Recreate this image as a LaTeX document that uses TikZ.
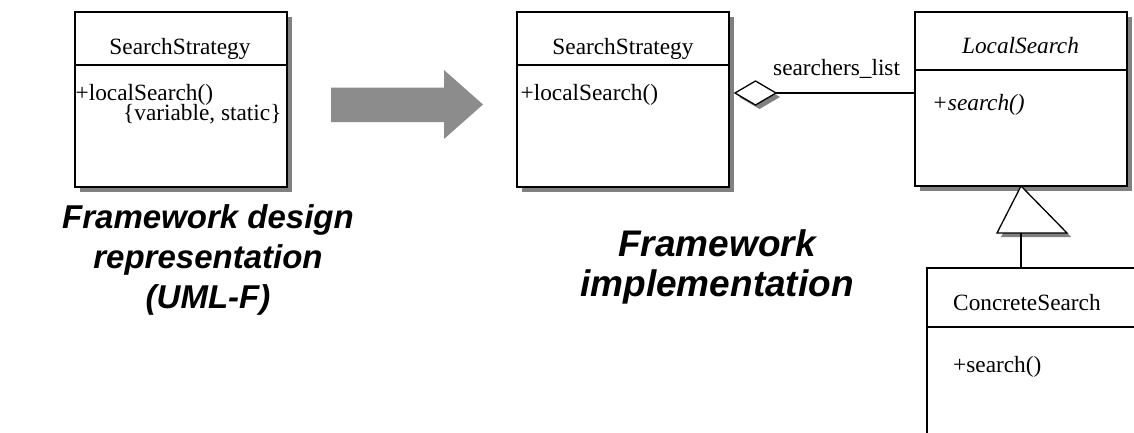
\documentclass[tikz,border=0pt]{standalone}
\usepackage{fontspec}
\setmainfont{Liberation Serif}
\newfontfamily\headfont{Liberation Sans}
\usetikzlibrary{shadows}
\definecolor{shadowgray}{RGB}{128,128,128}
\definecolor{arrowgray}{RGB}{140,140,140}
\begin{document}
\begin{tikzpicture}[x=1pt,y=-1pt,
  classbox/.style={draw, line width=1.3pt, fill=white, inner sep=0pt, outer sep=0pt,
    anchor=north west,
    drop shadow={shadow xshift=5pt, shadow yshift=-5pt, fill=shadowgray, opacity=1}},
  plainbox/.style={draw, line width=1.3pt, fill=white, inner sep=0pt, outer sep=0pt,
    anchor=north west},
  divider/.style={line width=1.3pt},
  umltext/.style={inner sep=0pt, font=\fontsize{23.3}{27}\selectfont},
  umlital/.style={umltext, font=\fontsize{23.3}{27}\selectfont\itshape},
  caption/.style={inner sep=0pt, align=center},
  captionsmall/.style={caption, font=\headfont\fontsize{33}{40}\selectfont\bfseries\itshape},
  captionlarge/.style={caption, font=\headfont\fontsize{37}{40.5}\selectfont\bfseries\itshape},
  link/.style={line width=1.3pt},
  tipshape/.style={line width=1.3pt, fill=white},
  tipshadow/.style={fill=shadowgray}
]
\useasboundingbox (0,0) rectangle (1134,432);
\clip (0,0) rectangle (1134,432);

% ---- design view: SearchStrategy with variation point ----
\node[classbox, minimum width=212pt, minimum height=175pt] (ss1) at (75,12) {};
\draw[divider] (ss1.west |- 0,65) -- (ss1.east |- 0,65);
\node[umltext, anchor=base] (ss1name) at (180,54) {SearchStrategy};
\node[umltext, anchor=base west] (ss1op) at (75.5,100) {+localSearch()};
\node[umltext, anchor=base west] (ss1tag) at (123,120) {\{variable, static\}};

\node[captionsmall] (cap1) at (208,260) {Framework design\\representation\\(UML-F)};

% ---- transformation arrow ----
\fill[arrowgray] (331,87.5) -- (444,87.5) -- (444,70) -- (483,104.5) -- (444,139)
  -- (444,122) -- (331,122) -- cycle;

% ---- implementation view ----
\node[classbox, minimum width=212pt, minimum height=175pt] (ss2) at (517,12) {};
\draw[divider] (ss2.west |- 0,65) -- (ss2.east |- 0,65);
\node[umltext, anchor=base] (ss2name) at (623,54) {SearchStrategy};
\node[umltext, anchor=base west] (ss2op) at (520.5,100) {+localSearch()};

\node[classbox, minimum width=212pt, minimum height=174pt] (ls) at (915,12) {};
\draw[divider] (ls.west |- 0,70) -- (ls.east |- 0,70);
\node[umlital, anchor=base] (lsname) at (1020.5,53.5) {LocalSearch};
\node[umlital, anchor=base west] (lsop) at (932,110) {+search()};

\node[plainbox, minimum width=240pt, minimum height=200pt] (cs) at (927,268) {};
\draw[divider] (cs.west |- 0,327) -- (cs.east |- 0,327);
\node[umltext, anchor=base west] (csname) at (953,310) {ConcreteSearch};
\node[umltext, anchor=base west] (csop) at (953,372.5) {+search()};

\node[captionlarge] (cap2) at (717,267) {Framework\\implementation};

% ---- aggregation: SearchStrategy <>--- LocalSearch ----
\coordinate (dl) at (735,93);
\coordinate (dt) at (755.5,81);
\coordinate (dr) at (776,93);
\coordinate (db) at (755.5,105);
\fill[tipshadow] ([shift={(4,4)}]dl) -- ([shift={(4,4)}]dt) -- ([shift={(4,4)}]dr)
  -- ([shift={(4,4)}]db) -- cycle;
\draw[tipshape] (dl) -- (dt) -- (dr) -- (db) -- cycle;
\draw[link] (dr) -- (ls.west |- dr);
\node[umltext, anchor=base west] (role) at (773,75.5) {searchers\_list};

% ---- generalization: ConcreteSearch --|> LocalSearch ----
\coordinate (ta) at (ls.south);
\coordinate (tl) at (997,233);
\coordinate (tr) at (1067,233);
\coordinate (tb) at (ls.south |- tl);
\fill[tipshadow] ([shift={(4,4)}]ta) -- ([shift={(4,4)}]tr) -- ([shift={(4,4)}]tl) -- cycle;
\draw[tipshape] (ta) -- (tr) -- (tl) -- cycle;
\draw[link] (tb) -- (tb |- cs.north);
\end{tikzpicture}
\end{document}
